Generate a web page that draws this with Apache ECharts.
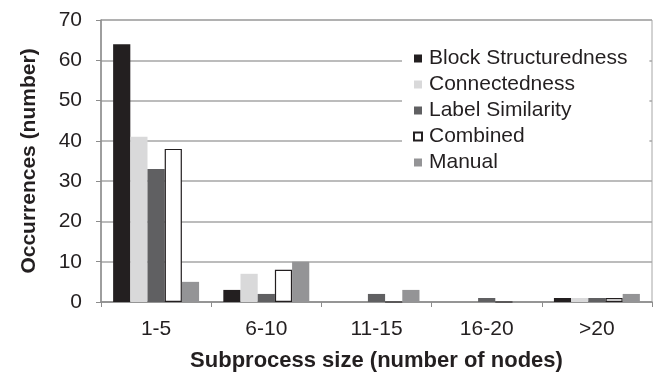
<!DOCTYPE html>
<html><head><meta charset="utf-8">
<script src="https://cdn.jsdelivr.net/npm/echarts@6/dist/echarts.min.js"></script>
<style>html,body{margin:0;padding:0;background:#fff}#c{width:658px;height:374px}</style>
</head><body><div id="c"></div>
<script>
const categories = ['1-5', '6-10', '11-15', '16-20', '>20'];
const blockStructuredness = [64, 3, 0, 0, 1];
const connectedness = [41, 7, 0, 0, 1];
const labelSimilarity = [33, 2, 2, 1, 1];
const combined = [38, 8, 0, 0, 1];
const manual = [5, 10, 3, 0, 2];
const yTicks = [0, 10, 20, 30, 40, 50, 60, 70];

const font = 'Liberation Sans, Arial, sans-serif';
const txt = '#231f20';
const chart = echarts.init(document.getElementById('c'));
const mk = (name, data, color, border) => ({
  name, type: 'bar', data, barGap: '0%', barCategoryGap: '22%',
  itemStyle: { color, borderColor: border || color, borderWidth: border ? 1.2 : 0 }
});
chart.setOption({
  animation: false,
  textStyle: { fontFamily: font, color: txt },
  grid: { left: 101, right: 6, top: 20, bottom: 72, show: true, borderColor: '#a6a6a6', borderWidth: 1,
    outerBoundsMode: 'none', containLabel: false },
  legend: {
    orient: 'vertical', left: 402, top: 44, icon: 'rect', itemWidth: 8, itemHeight: 8,
    itemGap: 5, backgroundColor: '#fff', padding: [4, 22, 6, 11],
    textStyle: { fontFamily: font, fontSize: 21, color: txt, lineHeight: 20, padding: [0, 0, 0, 2] },
    data: ['Block Structuredness', 'Connectedness', 'Label Similarity', 'Combined', 'Manual']
  },
  xAxis: {
    type: 'category', data: categories,
    name: 'Subprocess size (number of nodes)', nameLocation: 'middle', nameGap: 48,
    nameTextStyle: { fontFamily: font, fontSize: 22, fontWeight: 'bold', color: txt },
    axisLine: { lineStyle: { color: '#8c8c8c', width: 1.5 } },
    axisTick: { show: true, length: 5, lineStyle: { color: '#8c8c8c' } },
    axisLabel: { fontFamily: font, fontSize: 21, color: txt, margin: 17 }
  },
  yAxis: {
    type: 'value', min: 0, max: 70, interval: 10,
    name: 'Occurrences (number)', nameLocation: 'middle', nameGap: 61,
    nameTextStyle: { fontFamily: font, fontSize: 21, fontWeight: 'bold', color: txt },
    axisLine: { show: true, lineStyle: { color: '#8c8c8c', width: 1.5 } },
    axisTick: { show: true, length: 5, lineStyle: { color: '#8c8c8c' } },
    axisLabel: { fontFamily: font, fontSize: 21, color: txt, margin: 19,
      formatter: v => yTicks.includes(v) ? String(v) : '' },
    splitLine: { lineStyle: { color: '#a6a6a6', width: 1.5 } }
  },
  series: [
    mk('Block Structuredness', blockStructuredness, '#231f20'),
    mk('Connectedness', connectedness, '#d9d9da'),
    mk('Label Similarity', labelSimilarity, '#606062'),
    mk('Combined', combined, '#ffffff', '#231f20'),
    mk('Manual', manual, '#949496')
  ]
});
</script></body></html>
